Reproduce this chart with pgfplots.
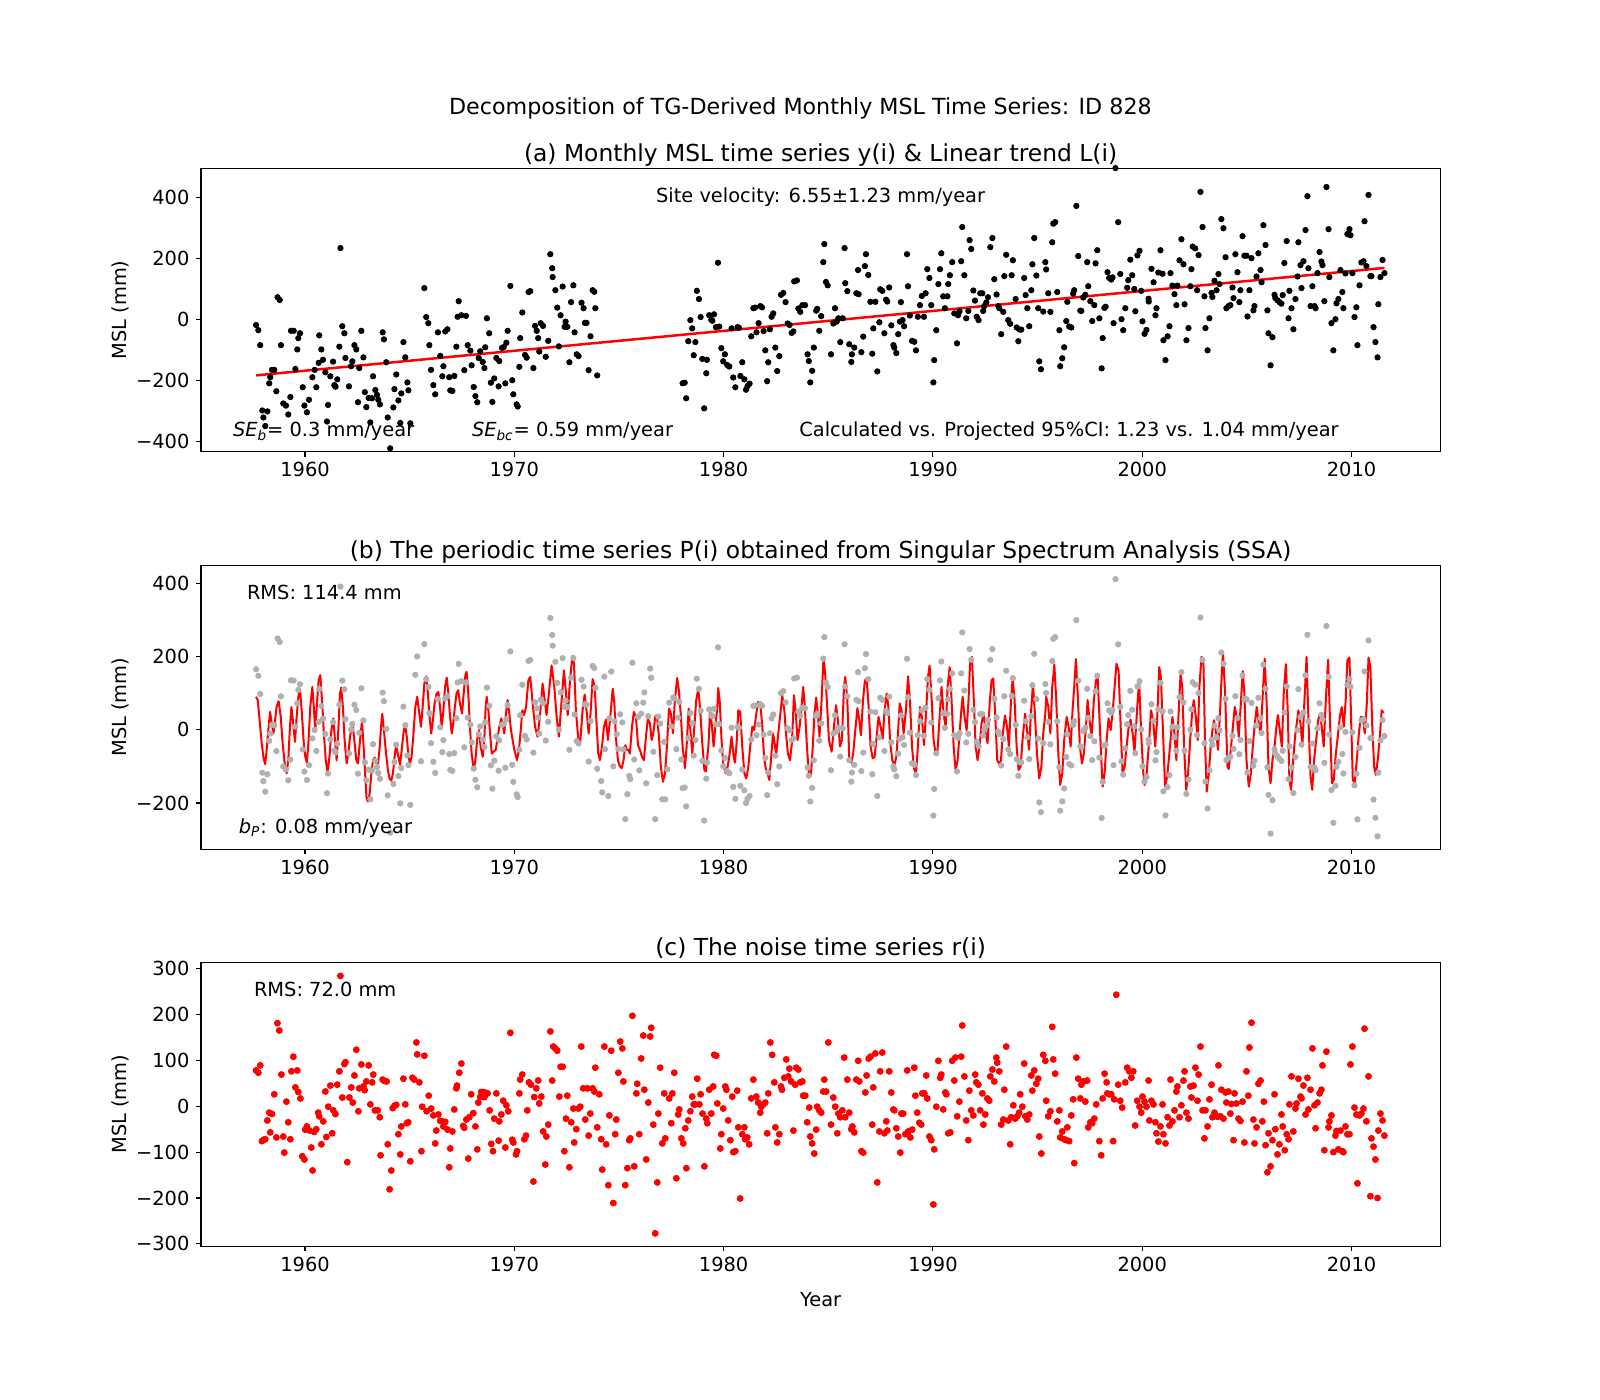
\documentclass[border=0pt]{standalone}
\usepackage{pgfplots}
\pgfplotsset{compat=1.18}
\usepackage{pgfplotstable}
\usepackage{fontspec}
\setmainfont{DejaVu Sans}
\definecolor{ssagray}{HTML}{B0B0B0}
\definecolor{mplred}{HTML}{FF0000}

% Monthly MSL values y(i) of TG 828 (mm); the 1974-1977 stretch is missing
\pgfplotstableread[row sep=\\]{
t y\\
1957.66 -17\\ 1957.77 -34\\ 1957.86 -83\\ 1957.96 -297\\ 1958.01 -320\\ 1958.10 -348\\ 1958.20 -300\\ 1958.29 -208\\ 1958.34 -188\\ 1958.42 -164\\
1958.53 -164\\ 1958.63 -234\\ 1958.69 74\\ 1958.79 65\\ 1958.85 -83\\ 1958.96 -274\\ 1959.09 -281\\ 1959.20 -310\\ 1959.30 -253\\ 1959.33 -36\\
1959.46 -36\\ 1959.54 -161\\ 1959.63 -97\\ 1959.68 -60\\ 1959.76 -44\\ 1959.89 -221\\ 1959.97 -281\\ 1960.09 -303\\ 1960.19 -262\\ 1960.35 -188\\
1960.46 -164\\ 1960.54 -221\\ 1960.65 -141\\ 1960.68 -51\\ 1960.78 -97\\ 1960.86 -131\\ 1960.97 -172\\ 1961.05 -333\\ 1961.10 -279\\ 1961.21 -185\\
1961.34 -137\\ 1961.40 -214\\ 1961.46 -219\\ 1961.54 -195\\ 1961.64 -88\\ 1961.69 235\\ 1961.78 -21\\ 1961.88 -44\\ 1961.93 -125\\ 1962.10 -218\\
1962.20 -152\\ 1962.26 -136\\ 1962.36 -83\\ 1962.45 -97\\ 1962.53 -270\\ 1962.59 -158\\ 1962.69 -36\\ 1962.79 -123\\ 1962.86 -237\\ 1962.93 -286\\
1963.04 -256\\ 1963.12 -336\\ 1963.20 -257\\ 1963.25 -185\\ 1963.36 -230\\ 1963.44 -246\\ 1963.50 -262\\ 1963.58 -277\\ 1963.71 -41\\ 1963.77 -64\\
1963.88 -139\\ 1963.95 -320\\ 1964.07 -421\\ 1964.22 -287\\ 1964.27 -227\\ 1964.36 -179\\ 1964.46 -264\\ 1964.55 -338\\ 1964.60 -241\\ 1964.70 -73\\
1964.79 -123\\ 1964.89 -205\\ 1964.94 -231\\ 1965.03 -339\\ 1965.70 104\\ 1965.79 9\\ 1965.89 -11\\ 1965.94 -83\\ 1966.02 -164\\ 1966.13 -214\\
1966.22 -244\\ 1966.35 -41\\ 1966.46 -118\\ 1966.56 -185\\ 1966.61 -152\\ 1966.70 -38\\ 1966.80 -31\\ 1966.89 -188\\ 1966.94 -231\\ 1967.04 -233\\
1967.13 -184\\ 1967.23 -88\\ 1967.29 10\\ 1967.34 61\\ 1967.47 15\\ 1967.61 -165\\ 1967.69 13\\ 1967.77 -83\\ 1967.90 -101\\ 1967.96 -149\\
1968.06 -220\\ 1968.14 -250\\ 1968.23 -270\\ 1968.30 -125\\ 1968.37 -103\\ 1968.49 -138\\ 1968.57 -158\\ 1968.61 -90\\ 1968.69 5\\ 1968.80 -44\\
1968.88 -206\\ 1968.95 -269\\ 1969.04 -192\\ 1969.14 -125\\ 1969.25 -218\\ 1969.28 -135\\ 1969.41 -92\\ 1969.49 -89\\ 1969.57 -208\\ 1969.62 -75\\
1969.68 -36\\ 1969.81 111\\ 1969.90 -198\\ 1969.95 -244\\ 1970.11 -277\\ 1970.16 -284\\ 1970.24 -154\\ 1970.28 -60\\ 1970.38 24\\ 1970.51 -115\\
1970.59 -124\\ 1970.68 91\\ 1970.76 94\\ 1970.91 -158\\ 1970.99 -20\\ 1971.07 -36\\ 1971.14 -60\\ 1971.19 -104\\ 1971.26 -11\\ 1971.37 -20\\
1971.50 -121\\ 1971.62 -69\\ 1971.72 215\\ 1971.81 169\\ 1971.83 140\\ 1971.96 97\\ 1972.05 40\\ 1972.13 -87\\ 1972.21 15\\ 1972.31 109\\
1972.40 -23\\ 1972.45 -6\\ 1972.53 -23\\ 1972.63 -139\\ 1972.71 58\\ 1972.82 113\\ 1972.88 -41\\ 1972.98 -113\\ 1973.07 -119\\ 1973.21 56\\
1973.31 38\\ 1973.37 -10\\ 1973.45 -10\\ 1973.55 -165\\ 1973.64 -54\\ 1973.74 97\\ 1973.82 92\\ 1973.87 38\\ 1973.96 -182\\
1978.04 -208\\ 1978.14 -206\\ 1978.21 -257\\ 1978.31 -70\\ 1978.41 -1\\ 1978.50 -28\\ 1978.57 -116\\ 1978.65 -73\\ 1978.72 95\\ 1978.82 68\\
1978.90 9\\ 1978.98 -128\\ 1979.07 -290\\ 1979.17 -175\\ 1979.20 -131\\ 1979.31 15\\ 1979.41 0\\ 1979.46 -3\\ 1979.54 18\\ 1979.63 -24\\
1979.73 187\\ 1979.79 -22\\ 1979.89 -93\\ 1979.98 -136\\ 1980.06 -113\\ 1980.17 -148\\ 1980.27 -153\\ 1980.38 -28\\ 1980.46 -189\\ 1980.56 -221\\
1980.67 -24\\ 1980.73 -26\\ 1980.80 -184\\ 1980.89 -139\\ 1980.99 -195\\ 1981.07 -229\\ 1981.14 -217\\ 1981.24 -209\\ 1981.32 -54\\ 1981.42 38\\
1981.50 40\\ 1981.57 -41\\ 1981.67 -11\\ 1981.75 45\\ 1981.83 41\\ 1981.91 -37\\ 1981.99 -100\\ 1982.08 -201\\ 1982.13 -139\\ 1982.21 -31\\
1982.29 10\\ 1982.37 21\\ 1982.47 -91\\ 1982.56 -168\\ 1982.66 -119\\ 1982.74 82\\ 1982.85 88\\ 1982.96 58\\ 1983.06 -12\\ 1983.15 -17\\
1983.25 -43\\ 1983.33 -38\\ 1983.37 126\\ 1983.50 129\\ 1983.57 37\\ 1983.66 26\\ 1983.76 48\\ 1983.89 48\\ 1984.01 -113\\ 1984.07 -135\\
1984.14 -205\\ 1984.23 -167\\ 1984.31 -91\\ 1984.42 30\\ 1984.47 36\\ 1984.57 -36\\ 1984.66 12\\ 1984.76 189\\ 1984.81 248\\ 1984.89 124\\
1984.97 113\\ 1985.13 -113\\ 1985.24 -12\\ 1985.32 38\\ 1985.40 -6\\ 1985.48 5\\ 1985.57 -73\\ 1985.69 5\\ 1985.78 235\\ 1985.81 120\\
1985.91 94\\ 1986.00 -80\\ 1986.10 -138\\ 1986.13 -113\\ 1986.24 -91\\ 1986.34 87\\ 1986.42 163\\ 1986.45 84\\ 1986.58 -106\\ 1986.67 -55\\
1986.75 176\\ 1986.80 215\\ 1986.91 147\\ 1987.01 59\\ 1987.10 -111\\ 1987.15 -28\\ 1987.25 59\\ 1987.34 -169\\ 1987.44 -8\\ 1987.48 100\\
1987.58 95\\ 1987.68 -44\\ 1987.76 66\\ 1987.82 60\\ 1987.91 106\\ 1988.01 -18\\ 1988.11 -83\\ 1988.15 -91\\ 1988.25 -109\\ 1988.34 -47\\
1988.42 -6\\ 1988.47 58\\ 1988.55 -1\\ 1988.62 -21\\ 1988.76 215\\ 1988.81 110\\ 1988.90 14\\ 1989.00 -69\\ 1989.11 -72\\ 1989.19 -100\\
1989.28 10\\ 1989.38 48\\ 1989.47 78\\ 1989.57 10\\ 1989.65 87\\ 1989.73 166\\ 1989.83 137\\ 1989.92 48\\ 1990.02 -205\\ 1990.06 -132\\
1990.16 -34\\ 1990.26 117\\ 1990.34 166\\ 1990.40 218\\ 1990.49 77\\ 1990.57 38\\ 1990.69 77\\ 1990.73 117\\ 1990.81 146\\ 1990.92 189\\
1991.02 21\\ 1991.15 -77\\ 1991.20 15\\ 1991.27 28\\ 1991.35 192\\ 1991.40 304\\ 1991.50 146\\ 1991.59 5\\ 1991.69 29\\ 1991.75 261\\
1991.83 232\\ 1991.93 96\\ 1992.01 63\\ 1992.09 10\\ 1992.18 -1\\ 1992.26 87\\ 1992.36 87\\ 1992.40 29\\ 1992.45 45\\ 1992.55 57\\
1992.63 74\\ 1992.74 238\\ 1992.84 268\\ 1992.93 133\\ 1993.04 83\\ 1993.12 45\\ 1993.17 38\\ 1993.26 -47\\ 1993.36 26\\ 1993.41 143\\
1993.50 213\\ 1993.60 -1\\ 1993.69 -13\\ 1993.76 146\\ 1993.82 195\\ 1993.95 68\\ 1994.00 -25\\ 1994.08 -70\\ 1994.13 -32\\ 1994.22 -32\\
1994.36 137\\ 1994.43 81\\ 1994.51 38\\ 1994.60 -21\\ 1994.70 97\\ 1994.75 182\\ 1994.84 268\\ 1994.94 145\\ 1995.03 38\\ 1995.08 -136\\
1995.16 -162\\ 1995.27 27\\ 1995.37 189\\ 1995.41 165\\ 1995.51 87\\ 1995.61 26\\ 1995.70 254\\ 1995.75 315\\ 1995.84 320\\ 1995.94 91\\
1996.04 -34\\ 1996.08 -152\\ 1996.18 -126\\ 1996.27 -90\\ 1996.37 -4\\ 1996.42 59\\ 1996.51 -22\\ 1996.61 -25\\ 1996.70 86\\ 1996.75 97\\
1996.85 373\\ 1996.94 209\\ 1997.04 30\\ 1997.09 29\\ 1997.18 73\\ 1997.28 82\\ 1997.37 189\\ 1997.42 110\\ 1997.52 61\\ 1997.61 -4\\
1997.71 48\\ 1997.77 185\\ 1997.85 228\\ 1997.95 5\\ 1998.06 -159\\ 1998.11 -60\\ 1998.19 39\\ 1998.25 43\\ 1998.34 156\\ 1998.42 137\\
1998.52 132\\ 1998.58 139\\ 1998.63 -11\\ 1998.72 497\\ 1998.85 320\\ 1998.95 150\\ 1999.01 2\\ 1999.09 -34\\ 1999.19 38\\ 1999.28 105\\
1999.33 130\\ 1999.43 197\\ 1999.52 146\\ 1999.62 101\\ 1999.67 28\\ 1999.77 211\\ 1999.87 226\\ 1999.95 95\\ 2000.01 -5\\ 2000.11 -46\\
2000.20 -33\\ 2000.30 69\\ 2000.31 60\\ 2000.44 167\\ 2000.54 123\\ 2000.63 15\\ 2000.68 38\\ 2000.77 155\\ 2000.87 228\\ 2000.97 151\\
2001.01 -67\\ 2001.11 -132\\ 2001.21 -54\\ 2001.30 -21\\ 2001.35 153\\ 2001.44 112\\ 2001.54 84\\ 2001.63 48\\ 2001.68 112\\ 2001.78 195\\
2001.87 264\\ 2001.97 182\\ 2002.02 51\\ 2002.11 -67\\ 2002.21 -27\\ 2002.30 110\\ 2002.35 166\\ 2002.41 240\\ 2002.53 234\\ 2002.62 97\\
2002.69 212\\ 2002.78 419\\ 2002.88 304\\ 2002.97 77\\ 2003.02 -27\\ 2003.12 -100\\ 2003.21 5\\ 2003.31 88\\ 2003.35 75\\ 2003.45 128\\
2003.55 97\\ 2003.64 150\\ 2003.69 117\\ 2003.78 330\\ 2003.88 300\\ 2003.98 205\\ 2004.02 38\\ 2004.12 45\\ 2004.21 48\\ 2004.31 106\\
2004.36 71\\ 2004.45 215\\ 2004.55 156\\ 2004.64 58\\ 2004.69 97\\ 2004.79 274\\ 2004.88 210\\ 2004.98 210\\ 2005.03 11\\ 2005.12 97\\
2005.22 202\\ 2005.31 31\\ 2005.36 45\\ 2005.46 142\\ 2005.55 218\\ 2005.65 163\\ 2005.70 123\\ 2005.79 310\\ 2005.89 245\\ 2005.98 31\\
2006.03 -44\\ 2006.13 -149\\ 2006.22 -57\\ 2006.32 82\\ 2006.36 71\\ 2006.46 64\\ 2006.55 58\\ 2006.65 53\\ 2006.71 81\\ 2006.79 186\\
2006.90 258\\ 2006.99 5\\ 2007.03 95\\ 2007.13 38\\ 2007.22 -31\\ 2007.32 68\\ 2007.42 142\\ 2007.46 254\\ 2007.56 179\\ 2007.61 104\\
2007.70 192\\ 2007.80 294\\ 2007.89 405\\ 2007.94 169\\ 2008.04 45\\ 2008.13 110\\ 2008.23 45\\ 2008.28 38\\ 2008.37 153\\ 2008.47 222\\
2008.56 191\\ 2008.61 179\\ 2008.70 61\\ 2008.80 435\\ 2008.90 297\\ 2008.94 140\\ 2009.04 -11\\ 2009.13 -100\\ 2009.23 2\\ 2009.28 54\\
2009.37 68\\ 2009.47 163\\ 2009.56 91\\ 2009.61 38\\ 2009.71 152\\ 2009.80 281\\ 2009.90 297\\ 2009.95 277\\ 2010.04 153\\ 2010.14 9\\
2010.23 41\\ 2010.28 -83\\ 2010.38 113\\ 2010.47 188\\ 2010.57 192\\ 2010.62 323\\ 2010.71 176\\ 2010.81 409\\ 2010.90 143\\ 2010.95 143\\
2011.05 -24\\ 2011.14 -73\\ 2011.24 -123\\ 2011.28 51\\ 2011.38 140\\ 2011.48 196\\ 2011.57 153\\
}\msldata

% Detrended values for the months filled in before the SSA (mm)
\pgfplotstableread[row sep=\\]{
t g\\
1965.27 150\\ 1965.36 200\\ 1965.54 -86\\
1974.15 -140\\ 1974.20 -171\\ 1974.30 145\\ 1974.33 -53\\ 1974.49 -181\\ 1974.54 31\\ 1974.63 159\\ 1974.73 -100\\ 1974.79 23\\ 1974.89 -12\\
1974.97 -53\\ 1975.06 42\\ 1975.16 20\\ 1975.21 -53\\ 1975.30 -244\\ 1975.40 -176\\ 1975.49 -126\\ 1975.54 -135\\ 1975.64 183\\ 1975.73 -81\\
1975.83 72\\ 1975.91 35\\ 1975.97 -111\\ 1976.06 44\\ 1976.16 74\\ 1976.21 102\\ 1976.30 -146\\ 1976.40 37\\ 1976.49 167\\ 1976.54 142\\
1976.64 -60\\ 1976.73 -244\\ 1976.83 -124\\ 1976.88 36\\ 1976.97 17\\ 1977.07 -190\\ 1977.16 -33\\ 1977.21 -190\\ 1977.31 -108\\ 1977.40 74\\
1977.50 9\\ 1977.59 88\\ 1977.64 85\\ 1977.74 -53\\ 1977.83 33\\ 1977.88 76\\ 1977.98 -81\\
}\gapdata

% Periodic component P(i) from SSA (mm)
\pgfplotstableread[row sep=\\]{
t p\\
1957.66 90\\ 1957.74 81\\ 1957.83 26\\ 1957.93 -37\\ 1958.02 -78\\ 1958.10 -94\\ 1958.18 -46\\ 1958.26 8\\ 1958.33 49\\ 1958.41 17\\
1958.49 -10\\ 1958.57 26\\ 1958.64 62\\ 1958.74 78\\ 1958.84 35\\ 1958.93 -37\\ 1959.03 -92\\ 1959.12 -119\\ 1959.20 -83\\ 1959.28 8\\
1959.35 62\\ 1959.42 26\\ 1959.52 -33\\ 1959.60 35\\ 1959.68 90\\ 1959.76 110\\ 1959.84 53\\ 1959.93 -28\\ 1960.01 -73\\ 1960.09 -90\\
1960.17 -28\\ 1960.25 62\\ 1960.35 117\\ 1960.43 53\\ 1960.49 -6\\ 1960.57 72\\ 1960.65 135\\ 1960.73 149\\ 1960.83 62\\ 1960.91 -19\\
1960.99 -83\\ 1961.08 -119\\ 1961.18 -65\\ 1961.26 -1\\ 1961.35 31\\ 1961.43 -28\\ 1961.51 -83\\ 1961.59 -1\\ 1961.67 99\\ 1961.73 115\\
1961.81 62\\ 1961.89 -28\\ 1961.99 -92\\ 1962.07 -65\\ 1962.15 -19\\ 1962.23 8\\ 1962.29 8\\ 1962.37 -37\\ 1962.45 -83\\ 1962.53 -92\\
1962.63 -28\\ 1962.72 24\\ 1962.80 -46\\ 1962.88 -128\\ 1962.94 -187\\ 1963.01 -196\\ 1963.09 -173\\ 1963.17 -119\\ 1963.25 -83\\ 1963.33 -76\\
1963.41 -87\\ 1963.49 -92\\ 1963.57 -46\\ 1963.63 8\\ 1963.69 43\\ 1963.77 -1\\ 1963.87 -65\\ 1963.96 -110\\ 1964.04 -133\\ 1964.12 -139\\
1964.20 -119\\ 1964.28 -74\\ 1964.35 -42\\ 1964.43 -65\\ 1964.54 -96\\ 1964.62 -55\\ 1964.70 -10\\ 1964.78 15\\ 1964.86 -19\\ 1964.93 -65\\
1965.01 -94\\ 1965.09 -74\\ 1965.17 -19\\ 1965.27 62\\ 1965.36 90\\ 1965.46 44\\ 1965.54 8\\ 1965.62 62\\ 1965.70 126\\ 1965.79 146\\
1965.87 99\\ 1965.95 35\\ 1966.03 -10\\ 1966.11 26\\ 1966.19 72\\ 1966.29 99\\ 1966.37 103\\ 1966.45 62\\ 1966.53 8\\ 1966.61 53\\
1966.69 117\\ 1966.77 142\\ 1966.85 99\\ 1966.93 35\\ 1967.01 -10\\ 1967.08 17\\ 1967.16 62\\ 1967.24 99\\ 1967.32 108\\ 1967.40 72\\
1967.50 44\\ 1967.58 99\\ 1967.66 149\\ 1967.72 158\\ 1967.80 99\\ 1967.88 8\\ 1967.96 -65\\ 1968.06 -110\\ 1968.14 -83\\ 1968.22 -28\\
1968.31 -1\\ 1968.39 -46\\ 1968.49 -74\\ 1968.57 -19\\ 1968.63 62\\ 1968.68 90\\ 1968.76 53\\ 1968.84 -10\\ 1968.92 -65\\ 1969.01 -60\\
1969.11 -55\\ 1969.19 -28\\ 1969.28 8\\ 1969.38 31\\ 1969.46 8\\ 1969.52 -10\\ 1969.60 44\\ 1969.68 81\\ 1969.76 44\\ 1969.84 -1\\
1969.92 -28\\ 1970.00 -55\\ 1970.13 -83\\ 1970.22 -55\\ 1970.32 8\\ 1970.38 53\\ 1970.46 40\\ 1970.56 62\\ 1970.67 135\\ 1970.76 144\\
1970.86 81\\ 1970.99 8\\ 1971.11 -19\\ 1971.22 35\\ 1971.35 126\\ 1971.43 90\\ 1971.54 40\\ 1971.65 99\\ 1971.78 176\\ 1971.91 117\\
1972.02 35\\ 1972.13 -19\\ 1972.26 81\\ 1972.37 162\\ 1972.47 99\\ 1972.55 40\\ 1972.66 135\\ 1972.77 201\\ 1972.85 180\\ 1972.94 53\\
1973.06 -28\\ 1973.15 -33\\ 1973.26 53\\ 1973.36 96\\ 1973.45 53\\ 1973.55 -10\\ 1973.64 44\\ 1973.74 138\\ 1973.84 117\\ 1973.92 26\\
1974.01 -65\\ 1974.09 -83\\ 1974.19 -46\\ 1974.28 8\\ 1974.38 28\\ 1974.47 -28\\ 1974.57 26\\ 1974.70 112\\ 1974.78 72\\ 1974.85 -19\\
1974.95 -83\\ 1975.03 -98\\ 1975.13 -105\\ 1975.22 -83\\ 1975.30 -42\\ 1975.38 -55\\ 1975.46 -55\\ 1975.52 -65\\ 1975.62 8\\ 1975.71 49\\
1975.81 35\\ 1975.91 -42\\ 1976.00 -55\\ 1976.10 -74\\ 1976.19 -83\\ 1976.29 -19\\ 1976.38 31\\ 1976.48 17\\ 1976.56 -28\\ 1976.64 -10\\
1976.73 35\\ 1976.81 40\\ 1976.91 -19\\ 1977.00 -101\\ 1977.10 -142\\ 1977.20 -119\\ 1977.29 -46\\ 1977.39 58\\ 1977.48 44\\ 1977.58 -10\\
1977.67 81\\ 1977.78 141\\ 1977.86 108\\ 1977.96 35\\ 1978.04 -46\\ 1978.15 -105\\ 1978.23 -46\\ 1978.33 58\\ 1978.41 -1\\ 1978.50 -65\\
1978.60 8\\ 1978.69 81\\ 1978.79 112\\ 1978.88 53\\ 1978.98 -37\\ 1979.08 -110\\ 1979.15 -114\\ 1979.27 -46\\ 1979.35 49\\ 1979.43 17\\
1979.52 -46\\ 1979.60 8\\ 1979.70 62\\ 1979.74 114\\ 1979.81 81\\ 1979.90 -28\\ 1979.98 -92\\ 1980.09 -119\\ 1980.19 -101\\ 1980.28 -69\\
1980.38 -19\\ 1980.48 -74\\ 1980.54 -90\\ 1980.62 -37\\ 1980.70 53\\ 1980.79 49\\ 1980.89 -46\\ 1980.99 -119\\ 1981.08 -133\\ 1981.18 -101\\
1981.27 -46\\ 1981.37 8\\ 1981.46 -1\\ 1981.56 44\\ 1981.65 76\\ 1981.75 72\\ 1981.85 8\\ 1981.93 -74\\ 1982.01 -105\\ 1982.10 -119\\
1982.18 -137\\ 1982.26 -83\\ 1982.36 -10\\ 1982.43 -33\\ 1982.51 -69\\ 1982.61 -10\\ 1982.71 44\\ 1982.80 94\\ 1982.90 53\\ 1982.98 -10\\
1983.07 -65\\ 1983.17 -83\\ 1983.26 -37\\ 1983.36 94\\ 1983.44 53\\ 1983.53 -28\\ 1983.63 8\\ 1983.72 62\\ 1983.80 117\\ 1983.88 62\\
1983.98 -46\\ 1984.07 -119\\ 1984.17 -124\\ 1984.25 -55\\ 1984.34 44\\ 1984.42 88\\ 1984.50 44\\ 1984.58 -19\\ 1984.68 81\\ 1984.77 196\\
1984.85 153\\ 1984.93 81\\ 1985.03 -28\\ 1985.16 -60\\ 1985.27 8\\ 1985.37 67\\ 1985.46 26\\ 1985.56 -46\\ 1985.65 -28\\ 1985.75 117\\
1985.81 144\\ 1985.91 81\\ 1986.00 -74\\ 1986.10 -90\\ 1986.19 -65\\ 1986.29 -1\\ 1986.39 59\\ 1986.48 26\\ 1986.56 -15\\ 1986.66 81\\
1986.75 135\\ 1986.83 140\\ 1986.93 62\\ 1987.02 -46\\ 1987.12 -78\\ 1987.21 -74\\ 1987.31 -19\\ 1987.40 35\\ 1987.50 8\\ 1987.60 -24\\
1987.69 53\\ 1987.79 99\\ 1987.87 62\\ 1987.96 -37\\ 1988.06 -83\\ 1988.15 -99\\ 1988.25 -74\\ 1988.34 -1\\ 1988.41 72\\ 1988.50 53\\
1988.60 -10\\ 1988.71 53\\ 1988.81 146\\ 1988.90 81\\ 1989.00 -46\\ 1989.09 -105\\ 1989.19 -119\\ 1989.28 -46\\ 1989.38 62\\ 1989.47 35\\
1989.57 -42\\ 1989.67 44\\ 1989.76 144\\ 1989.84 175\\ 1989.94 81\\ 1990.03 -28\\ 1990.13 -65\\ 1990.22 -55\\ 1990.32 35\\ 1990.41 117\\
1990.51 44\\ 1990.61 4\\ 1990.70 117\\ 1990.80 171\\ 1990.89 81\\ 1990.99 -46\\ 1991.08 -110\\ 1991.18 -83\\ 1991.27 -10\\ 1991.37 62\\
1991.42 90\\ 1991.51 35\\ 1991.61 -1\\ 1991.70 81\\ 1991.78 190\\ 1991.86 199\\ 1991.94 99\\ 1992.04 -46\\ 1992.13 -83\\ 1992.23 -46\\
1992.32 17\\ 1992.42 44\\ 1992.52 -10\\ 1992.61 -37\\ 1992.71 72\\ 1992.80 135\\ 1992.88 140\\ 1992.98 35\\ 1993.07 -83\\ 1993.17 -94\\
1993.25 -83\\ 1993.34 -10\\ 1993.44 39\\ 1993.54 8\\ 1993.63 -46\\ 1993.73 81\\ 1993.81 140\\ 1993.90 81\\ 1994.00 -46\\ 1994.09 -110\\
1994.19 -101\\ 1994.28 -28\\ 1994.40 44\\ 1994.48 8\\ 1994.59 -55\\ 1994.68 44\\ 1994.78 126\\ 1994.87 44\\ 1994.97 -65\\ 1995.08 -133\\
1995.18 -101\\ 1995.27 -10\\ 1995.37 44\\ 1995.41 90\\ 1995.51 63\\ 1995.61 -10\\ 1995.70 117\\ 1995.80 178\\ 1995.89 81\\ 1995.99 -65\\
1996.08 -151\\ 1996.18 -119\\ 1996.27 -28\\ 1996.39 35\\ 1996.48 8\\ 1996.58 -46\\ 1996.67 53\\ 1996.75 117\\ 1996.83 193\\ 1996.93 81\\
1997.02 -46\\ 1997.12 -92\\ 1997.21 -65\\ 1997.31 8\\ 1997.39 81\\ 1997.48 26\\ 1997.58 -19\\ 1997.69 81\\ 1997.79 135\\ 1997.87 144\\
1997.96 26\\ 1998.06 -101\\ 1998.11 -155\\ 1998.20 -119\\ 1998.30 -28\\ 1998.39 31\\ 1998.49 -1\\ 1998.58 44\\ 1998.68 117\\ 1998.77 180\\
1998.87 162\\ 1998.97 8\\ 1999.06 -119\\ 1999.16 -101\\ 1999.25 -46\\ 1999.35 8\\ 1999.44 28\\ 1999.54 -10\\ 1999.63 -60\\ 1999.76 62\\
1999.85 135\\ 1999.95 -10\\ 2000.04 -110\\ 2000.11 -151\\ 2000.20 -128\\ 2000.33 -28\\ 2000.42 53\\ 2000.52 26\\ 2000.62 -46\\ 2000.71 26\\
2000.81 171\\ 2000.89 144\\ 2001.00 -19\\ 2001.09 -155\\ 2001.19 -128\\ 2001.28 -74\\ 2001.38 -10\\ 2001.44 35\\ 2001.54 -10\\ 2001.63 -83\\
2001.73 35\\ 2001.83 153\\ 2001.91 117\\ 2002.00 -46\\ 2002.10 -164\\ 2002.18 -128\\ 2002.29 -28\\ 2002.38 44\\ 2002.46 81\\ 2002.56 35\\
2002.65 -28\\ 2002.73 117\\ 2002.83 199\\ 2002.92 190\\ 2003.00 -37\\ 2003.08 -169\\ 2003.18 -119\\ 2003.27 -46\\ 2003.37 8\\ 2003.43 26\\
2003.53 -10\\ 2003.62 -55\\ 2003.72 53\\ 2003.82 180\\ 2003.86 206\\ 2003.96 99\\ 2004.07 -101\\ 2004.13 -107\\ 2004.23 -55\\ 2004.33 8\\
2004.42 62\\ 2004.52 35\\ 2004.61 -19\\ 2004.71 72\\ 2004.80 160\\ 2004.88 99\\ 2004.98 -83\\ 2005.09 -155\\ 2005.19 -119\\ 2005.28 -46\\
2005.38 17\\ 2005.47 62\\ 2005.57 17\\ 2005.66 -10\\ 2005.76 99\\ 2005.85 194\\ 2005.95 62\\ 2006.03 -101\\ 2006.13 -146\\ 2006.22 -83\\
2006.32 -46\\ 2006.41 8\\ 2006.48 40\\ 2006.57 -1\\ 2006.67 -46\\ 2006.76 99\\ 2006.86 179\\ 2006.95 53\\ 2007.03 -137\\ 2007.11 -164\\
2007.21 -83\\ 2007.30 -19\\ 2007.40 26\\ 2007.46 53\\ 2007.56 17\\ 2007.65 -46\\ 2007.75 81\\ 2007.85 199\\ 2007.94 26\\ 2008.04 -128\\
2008.12 -164\\ 2008.21 -83\\ 2008.31 -28\\ 2008.40 26\\ 2008.50 44\\ 2008.59 -1\\ 2008.67 -46\\ 2008.77 81\\ 2008.88 191\\ 2008.98 8\\
2009.06 -146\\ 2009.15 -137\\ 2009.25 -65\\ 2009.34 -19\\ 2009.44 35\\ 2009.53 62\\ 2009.63 8\\ 2009.72 81\\ 2009.80 190\\ 2009.90 197\\
2009.98 26\\ 2010.06 -137\\ 2010.15 -146\\ 2010.25 -83\\ 2010.35 -10\\ 2010.44 35\\ 2010.54 35\\ 2010.63 -10\\ 2010.73 72\\ 2010.81 197\\
2010.90 171\\ 2010.99 8\\ 2011.08 -101\\ 2011.16 -123\\ 2011.25 -83\\ 2011.35 -19\\ 2011.44 53\\ 2011.54 46\\
}\ssadata

% Noise component r(i) (mm)
\pgfplotstableread[row sep=\\]{
t r\\
1957.66 78\\ 1957.77 73\\ 1957.86 89\\ 1957.94 -76\\ 1958.02 -73\\ 1958.10 -72\\ 1958.20 -31\\ 1958.29 -14\\ 1958.34 -57\\ 1958.42 -17\\
1958.53 26\\ 1958.63 -68\\ 1958.68 181\\ 1958.77 165\\ 1958.87 69\\ 1958.96 -66\\ 1959.01 -101\\ 1959.11 10\\ 1959.20 -35\\ 1959.30 -72\\
1959.35 76\\ 1959.44 108\\ 1959.54 41\\ 1959.63 78\\ 1959.68 31\\ 1959.78 17\\ 1959.87 -109\\ 1959.97 -116\\ 1960.01 -51\\ 1960.09 -44\\
1960.22 -53\\ 1960.30 -90\\ 1960.36 -140\\ 1960.44 -56\\ 1960.54 -50\\ 1960.63 -14\\ 1960.68 -22\\ 1960.78 -83\\ 1960.87 -33\\ 1960.97 32\\
1961.02 -67\\ 1961.11 -1\\ 1961.21 45\\ 1961.30 -59\\ 1961.35 -9\\ 1961.45 -17\\ 1961.54 47\\ 1961.64 76\\ 1961.69 284\\ 1961.78 19\\
1961.88 92\\ 1961.93 96\\ 1962.02 -122\\ 1962.12 19\\ 1962.21 41\\ 1962.28 8\\ 1962.36 67\\ 1962.45 123\\ 1962.55 -11\\ 1962.59 39\\
1962.69 91\\ 1962.79 43\\ 1962.85 35\\ 1962.93 54\\ 1963.04 89\\ 1963.12 4\\ 1963.21 52\\ 1963.26 69\\ 1963.34 -9\\ 1963.47 -9\\
1963.57 -24\\ 1963.61 -107\\ 1963.71 58\\ 1963.80 55\\ 1963.90 54\\ 1963.95 -83\\ 1964.04 -181\\ 1964.12 -140\\ 1964.19 -4\\ 1964.27 1\\
1964.36 3\\ 1964.46 -61\\ 1964.55 -105\\ 1964.60 -44\\ 1964.70 60\\ 1964.79 4\\ 1964.86 -37\\ 1964.93 -35\\ 1965.03 -120\\ 1965.13 62\\
1965.22 58\\ 1965.32 139\\ 1965.36 113\\ 1965.46 52\\ 1965.56 -98\\ 1965.60 -1\\ 1965.70 110\\ 1965.81 -11\\ 1965.91 23\\ 1966.03 -5\\
1966.13 -20\\ 1966.22 -81\\ 1966.27 -53\\ 1966.37 -18\\ 1966.46 -32\\ 1966.56 -33\\ 1966.61 -44\\ 1966.70 -34\\ 1966.81 -51\\ 1966.89 -133\\
1966.94 -92\\ 1967.04 -55\\ 1967.13 -7\\ 1967.23 39\\ 1967.26 45\\ 1967.37 73\\ 1967.47 93\\ 1967.56 -43\\ 1967.61 -47\\ 1967.71 -29\\
1967.80 -114\\ 1967.85 -24\\ 1967.94 26\\ 1968.04 -15\\ 1968.14 -44\\ 1968.23 -94\\ 1968.28 8\\ 1968.37 20\\ 1968.42 31\\ 1968.52 31\\
1968.57 20\\ 1968.66 29\\ 1968.72 28\\ 1968.82 -9\\ 1968.90 -82\\ 1968.98 -98\\ 1969.04 -27\\ 1969.14 28\\ 1969.25 -75\\ 1969.28 -33\\
1969.38 -18\\ 1969.47 12\\ 1969.57 -90\\ 1969.62 2\\ 1969.71 -11\\ 1969.81 160\\ 1969.90 -73\\ 1969.95 -79\\ 1970.08 -105\\ 1970.13 -98\\
1970.24 28\\ 1970.28 58\\ 1970.38 69\\ 1970.48 -72\\ 1970.56 -64\\ 1970.62 -9\\ 1970.70 52\\ 1970.79 47\\ 1970.91 -164\\ 1970.95 20\\
1971.05 39\\ 1971.14 56\\ 1971.19 6\\ 1971.29 21\\ 1971.38 -55\\ 1971.48 -127\\ 1971.53 -66\\ 1971.62 -40\\ 1971.72 163\\ 1971.81 56\\
1971.86 130\\ 1971.96 126\\ 1972.05 121\\ 1972.15 21\\ 1972.21 86\\ 1972.31 86\\ 1972.39 -98\\ 1972.47 -27\\ 1972.53 23\\ 1972.63 -133\\
1972.72 -35\\ 1972.82 -5\\ 1972.86 -79\\ 1972.96 -50\\ 1973.06 -5\\ 1973.15 -1\\ 1973.20 130\\ 1973.29 39\\ 1973.39 -29\\ 1973.49 39\\
1973.55 -64\\ 1973.63 -16\\ 1973.74 39\\ 1973.82 32\\ 1973.87 84\\ 1973.96 -46\\ 1974.06 26\\ 1974.15 -72\\ 1974.20 -138\\ 1974.30 130\\
1974.39 -83\\ 1974.49 -172\\ 1974.54 -20\\ 1974.63 121\\ 1974.73 -211\\ 1974.82 -61\\ 1974.87 -29\\ 1974.97 73\\ 1975.06 141\\ 1975.16 126\\
1975.21 54\\ 1975.30 -172\\ 1975.40 -135\\ 1975.49 -74\\ 1975.54 -70\\ 1975.64 197\\ 1975.73 -131\\ 1975.83 28\\ 1975.87 49\\ 1975.97 -61\\
1976.06 104\\ 1976.16 154\\ 1976.21 36\\ 1976.30 -116\\ 1976.40 8\\ 1976.49 152\\ 1976.54 171\\ 1976.64 -40\\ 1976.73 -277\\ 1976.83 -166\\
1976.88 -16\\ 1976.97 84\\ 1977.07 -81\\ 1977.16 28\\ 1977.21 -70\\ 1977.40 17\\ 1977.50 -37\\ 1977.55 28\\ 1977.64 73\\ 1977.74 -157\\
1977.83 -18\\ 1977.88 -7\\ 1977.98 -70\\ 1978.07 -81\\ 1978.17 -48\\ 1978.22 -135\\ 1978.31 -31\\ 1978.41 -11\\ 1978.50 21\\ 1978.57 4\\
1978.65 4\\ 1978.74 60\\ 1978.84 4\\ 1978.90 26\\ 1978.99 -16\\ 1979.08 -131\\ 1979.17 -27\\ 1979.22 -37\\ 1979.31 36\\ 1979.41 -16\\
1979.50 43\\ 1979.55 112\\ 1979.65 110\\ 1979.70 6\\ 1979.84 -92\\ 1979.89 -61\\ 1979.98 -5\\ 1980.08 43\\ 1980.13 36\\ 1980.22 -31\\
1980.32 -74\\ 1980.41 21\\ 1980.46 -100\\ 1980.56 -98\\ 1980.65 34\\ 1980.70 -46\\ 1980.79 -201\\ 1980.89 -61\\ 1980.99 -46\\ 1981.03 -72\\
1981.13 -68\\ 1981.22 -83\\ 1981.32 17\\ 1981.42 58\\ 1981.56 21\\ 1981.65 8\\ 1981.75 -14\\ 1981.80 -1\\ 1981.89 4\\ 1981.99 8\\
1982.08 -59\\ 1982.13 28\\ 1982.23 139\\ 1982.32 112\\ 1982.42 52\\ 1982.47 -46\\ 1982.56 -79\\ 1982.66 -61\\ 1982.74 43\\ 1982.79 36\\
1982.90 62\\ 1982.99 102\\ 1983.09 65\\ 1983.14 82\\ 1983.23 54\\ 1983.33 -53\\ 1983.42 47\\ 1983.47 84\\ 1983.57 80\\ 1983.66 52\\
1983.76 54\\ 1983.80 23\\ 1983.90 23\\ 1983.99 -35\\ 1984.09 -3\\ 1984.14 -66\\ 1984.23 -81\\ 1984.33 -103\\ 1984.42 -51\\ 1984.47 -1\\
1984.57 -9\\ 1984.66 -14\\ 1984.76 32\\ 1984.81 58\\ 1984.90 32\\ 1985.00 139\\ 1985.13 -40\\ 1985.24 19\\ 1985.33 -1\\ 1985.43 -59\\
1985.48 -16\\ 1985.57 -24\\ 1985.67 -9\\ 1985.76 106\\ 1985.81 -24\\ 1985.91 58\\ 1986.00 -14\\ 1986.10 -50\\ 1986.15 -44\\ 1986.24 -57\\
1986.34 58\\ 1986.43 99\\ 1986.48 54\\ 1986.58 -98\\ 1986.67 -101\\ 1986.77 30\\ 1986.83 67\\ 1986.93 104\\ 1987.02 108\\ 1987.10 -40\\
1987.15 41\\ 1987.25 115\\ 1987.34 -166\\ 1987.44 -55\\ 1987.48 76\\ 1987.58 117\\ 1987.68 -59\\ 1987.77 -33\\ 1987.82 -53\\ 1987.91 76\\
1988.01 30\\ 1988.11 -7\\ 1988.15 -9\\ 1988.25 -48\\ 1988.34 -66\\ 1988.44 -101\\ 1988.49 -16\\ 1988.58 -16\\ 1988.68 -61\\ 1988.77 78\\
1988.82 -55\\ 1988.92 -68\\ 1989.01 -51\\ 1989.11 84\\ 1989.16 23\\ 1989.25 -14\\ 1989.35 -36\\ 1989.44 -40\\ 1989.49 28\\ 1989.59 28\\
1989.68 67\\ 1989.73 17\\ 1989.83 -66\\ 1989.92 -74\\ 1990.02 -214\\ 1990.06 -94\\ 1990.16 -1\\ 1990.26 99\\ 1990.35 62\\ 1990.40 69\\
1990.49 -7\\ 1990.59 30\\ 1990.64 26\\ 1990.73 -59\\ 1990.83 -57\\ 1990.92 99\\ 1991.02 56\\ 1991.07 106\\ 1991.16 -22\\ 1991.26 10\\
1991.35 108\\ 1991.40 176\\ 1991.50 65\\ 1991.59 -31\\ 1991.69 -74\\ 1991.74 34\\ 1991.83 -9\\ 1991.93 -20\\ 1992.02 69\\ 1992.07 52\\
1992.17 47\\ 1992.26 -9\\ 1992.36 28\\ 1992.41 -40\\ 1992.50 -18\\ 1992.60 17\\ 1992.69 12\\ 1992.74 65\\ 1992.84 80\\ 1992.93 54\\
1993.03 106\\ 1993.07 95\\ 1993.17 76\\ 1993.26 -40\\ 1993.36 -29\\ 1993.41 36\\ 1993.50 130\\ 1993.60 -31\\ 1993.69 -83\\ 1993.74 -24\\
1993.84 2\\ 1993.93 -27\\ 1994.03 -22\\ 1994.12 -14\\ 1994.17 26\\ 1994.27 -1\\ 1994.36 93\\ 1994.41 -22\\ 1994.51 -29\\ 1994.60 -18\\
1994.70 67\\ 1994.75 34\\ 1994.84 78\\ 1994.94 49\\ 1995.03 60\\ 1995.08 -66\\ 1995.18 -103\\ 1995.27 112\\ 1995.37 99\\ 1995.41 12\\
1995.51 -22\\ 1995.61 -11\\ 1995.70 173\\ 1995.75 102\\ 1995.84 71\\ 1995.94 -33\\ 1996.04 -9\\ 1996.08 -68\\ 1996.18 -55\\ 1996.27 -72\\
1996.37 -74\\ 1996.42 -46\\ 1996.51 -76\\ 1996.61 -20\\ 1996.70 15\\ 1996.75 -124\\ 1996.85 106\\ 1996.94 60\\ 1997.04 17\\ 1997.09 47\\
1997.18 54\\ 1997.28 10\\ 1997.37 56\\ 1997.42 -46\\ 1997.52 -35\\ 1997.61 -37\\ 1997.71 -27\\ 1997.80 4\\ 1997.95 -76\\ 1998.04 -107\\
1998.11 17\\ 1998.20 71\\ 1998.30 52\\ 1998.33 28\\ 1998.42 26\\ 1998.52 26\\ 1998.61 -76\\ 1998.66 15\\ 1998.76 243\\ 1998.85 47\\
1998.95 12\\ 1999.04 -3\\ 1999.19 52\\ 1999.28 84\\ 1999.38 76\\ 1999.48 62\\ 1999.57 76\\ 1999.66 -42\\ 1999.76 12\\ 1999.87 -1\\
1999.95 -14\\ 2000.01 21\\ 2000.11 10\\ 2000.20 -1\\ 2000.30 56\\ 2000.34 -31\\ 2000.44 12\\ 2000.54 4\\ 2000.63 -35\\ 2000.68 -59\\
2000.77 -77\\ 2000.87 -44\\ 2000.97 4\\ 2001.01 -61\\ 2001.11 -81\\ 2001.21 -24\\ 2001.30 -42\\ 2001.35 58\\ 2001.44 -33\\ 2001.54 -9\\
2001.63 32\\ 2001.68 43\\ 2001.78 -24\\ 2001.87 2\\ 2001.97 56\\ 2002.02 76\\ 2002.11 -14\\ 2002.21 -27\\ 2002.30 43\\ 2002.35 19\\
2002.45 45\\ 2002.54 84\\ 2002.64 12\\ 2002.69 69\\ 2002.78 130\\ 2002.88 -9\\ 2002.97 -70\\ 2003.02 -9\\ 2003.12 -44\\ 2003.21 15\\
2003.31 47\\ 2003.35 -24\\ 2003.45 -14\\ 2003.59 -23\\ 2003.64 89\\ 2003.74 -22\\ 2003.78 36\\ 2003.88 -27\\ 2003.98 30\\ 2004.02 8\\
2004.12 32\\ 2004.21 -16\\ 2004.26 5\\ 2004.36 -74\\ 2004.41 28\\ 2004.50 6\\ 2004.60 -27\\ 2004.69 -32\\ 2004.79 10\\ 2004.88 -79\\
2004.98 76\\ 2005.07 23\\ 2005.12 128\\ 2005.22 182\\ 2005.31 -29\\ 2005.36 -81\\ 2005.46 -46\\ 2005.55 49\\ 2005.65 56\\ 2005.74 -33\\
2005.81 10\\ 2005.89 -85\\ 2005.98 -144\\ 2006.03 -59\\ 2006.13 -131\\ 2006.22 -74\\ 2006.32 26\\ 2006.36 -50\\ 2006.46 -105\\ 2006.55 -83\\
2006.65 -18\\ 2006.71 -44\\ 2006.81 -96\\ 2006.90 -61\\ 2006.99 -72\\ 2007.03 4\\ 2007.13 65\\ 2007.22 -55\\ 2007.32 -5\\ 2007.37 6\\
2007.46 60\\ 2007.56 21\\ 2007.61 17\\ 2007.70 45\\ 2007.80 -18\\ 2007.89 62\\ 2007.94 -7\\ 2008.04 36\\ 2008.13 126\\ 2008.23 2\\
2008.28 -48\\ 2008.37 8\\ 2008.47 28\\ 2008.56 36\\ 2008.61 89\\ 2008.70 -96\\ 2008.80 119\\ 2008.90 -46\\ 2008.94 -33\\ 2009.04 -20\\
2009.13 -100\\ 2009.23 -64\\ 2009.28 -54\\ 2009.37 -94\\ 2009.47 -53\\ 2009.56 -98\\ 2009.61 -100\\ 2009.71 -44\\ 2009.80 -61\\ 2009.90 -61\\
2009.95 91\\ 2010.04 130\\ 2010.14 -3\\ 2010.23 -18\\ 2010.28 -168\\ 2010.38 -20\\ 2010.47 -16\\ 2010.57 -5\\ 2010.62 169\\ 2010.71 -33\\
2010.81 65\\ 2010.90 -196\\ 2010.95 -70\\ 2011.05 -88\\ 2011.14 -116\\ 2011.24 -200\\ 2011.28 -53\\ 2011.38 -16\\ 2011.48 -31\\ 2011.57 -64\\
}\noisedata

\newcommand\basefont{\fontsize{9.7}{11.6}\selectfont}
\newcommand\titlefont{\fontsize{11.7}{14}\selectfont}

\pgfplotsset{
  tsaxis/.style={
    scale only axis, width=619.65pt, height=141.8pt,
    anchor=south west,
    xmin=1955.03, xmax=2014.24,
    xtick={1960,1970,1980,1990,2000,2010},
    xticklabels={1960,1970,1980,1990,2000,2010},
    tick pos=left, tick align=outside, major tick length=2.5pt,
    axis line style={line width=0.55pt},
    every tick/.style={black, line width=0.55pt},
    tick label style={font=\basefont},
    /pgf/number format/assume math mode=true,
    xticklabel style={anchor=north, inner sep=0pt, yshift=-2.7pt},
    yticklabel style={anchor=east, inner sep=0pt, xshift=-3.1pt},
  },
  dots/.style={only marks, mark=*, mark size=#1, mark options={draw=none}},
}

\begin{document}
\begin{tikzpicture}[x=1pt, y=1pt]
\path[use as bounding box] (0,0) rectangle (800,-700);

% (a) monthly series and its linear trend
\begin{axis}[tsaxis, at={(100.5pt,-225.85pt)},
  ymin=-432, ymax=497,
  ytick={-400,-200,0,200,400}, yticklabels={−400,−200,0,200,400}]
\addplot[dots=1.35pt, black] table[x=t, y=y] {\msldata};
\addplot[mplred, line width=1.25pt] coordinates {(1957.66,-182) (2011.57,170)};
\end{axis}

% (b) detrended series (grey) and SSA periodic part (red)
\begin{axis}[tsaxis, at={(100.5pt,-424.6pt)},
  ymin=-326, ymax=448,
  ytick={-200,0,200,400}, yticklabels={−200,0,200,400}]
\addplot[dots=1.35pt, ssagray] table[x=t, y expr={\thisrow{y}+182-6.53*(\thisrow{t}-1957.66)}] {\msldata};
\addplot[dots=1.35pt, ssagray] table[x=t, y=g] {\gapdata};
\addplot[mplred, line width=1pt, line join=round] table[x=t, y=p] {\ssadata};
\end{axis}

% (c) residual noise
\begin{axis}[tsaxis, at={(100.5pt,-623.1pt)},
  ymin=-305, ymax=313,
  ytick={-300,-200,-100,0,100,200,300},
  yticklabels={−300,−200,−100,0,100,200,300}]
\addplot[dots=1.5pt, mplred] table[x=t, y=r] {\noisedata};
\end{axis}

% titles
\node[anchor=base, font=\fontsize{11.1}{13.3}\selectfont] at (400.2,-57.2) {Decomposition of TG-Derived Monthly MSL Time Series: ID 828};
\node[anchor=base, font=\titlefont] at (410.3,-80.7) {(a) Monthly MSL time series y(i) \& Linear trend L(i)};
\node[anchor=base, font=\titlefont] at (410.3,-279.2) {(b) The periodic time series P(i) obtained from Singular Spectrum Analysis (SSA)};
\node[anchor=base, font=\titlefont] at (410.3,-477.7) {(c) The noise time series r(i)};

% annotations
\begin{scope}[every node/.style={font=\basefont, inner sep=0pt}]
\node[anchor=base] at (410.3,-101.2) {Site velocity: 6.55±1.23 mm/year};
\node[anchor=base west] at (116.3,-218.3) {\textit{SE}\textsubscript{\textit{b}}= 0.3 mm/year};
\node[anchor=base west] at (235.8,-218.3) {\textit{SE}\textsubscript{\textit{bc}}= 0.59 mm/year};
\node[anchor=base west] at (399.5,-218.3) {Calculated vs. Projected 95\%CI: 1.23 vs. 1.04 mm/year};
\node[anchor=base west] at (123.3,-299.7) {RMS: 114.4 mm};
\node[anchor=base west] at (119.2,-416.7) {\textit{b}\textsubscript{\textit{P}}: 0.08 mm/year};
\node[anchor=base west] at (126.8,-498.2) {RMS: 72.0 mm};
% axis labels
\node[anchor=base, rotate=90] at (63.3,-155) {MSL (mm)};
\node[anchor=base, rotate=90] at (63.3,-353.6) {MSL (mm)};
\node[anchor=base, rotate=90] at (63.3,-552.1) {MSL (mm)};
\node[anchor=base] at (410.3,-653.2) {Year};
\end{scope}
\end{tikzpicture}
\end{document}
